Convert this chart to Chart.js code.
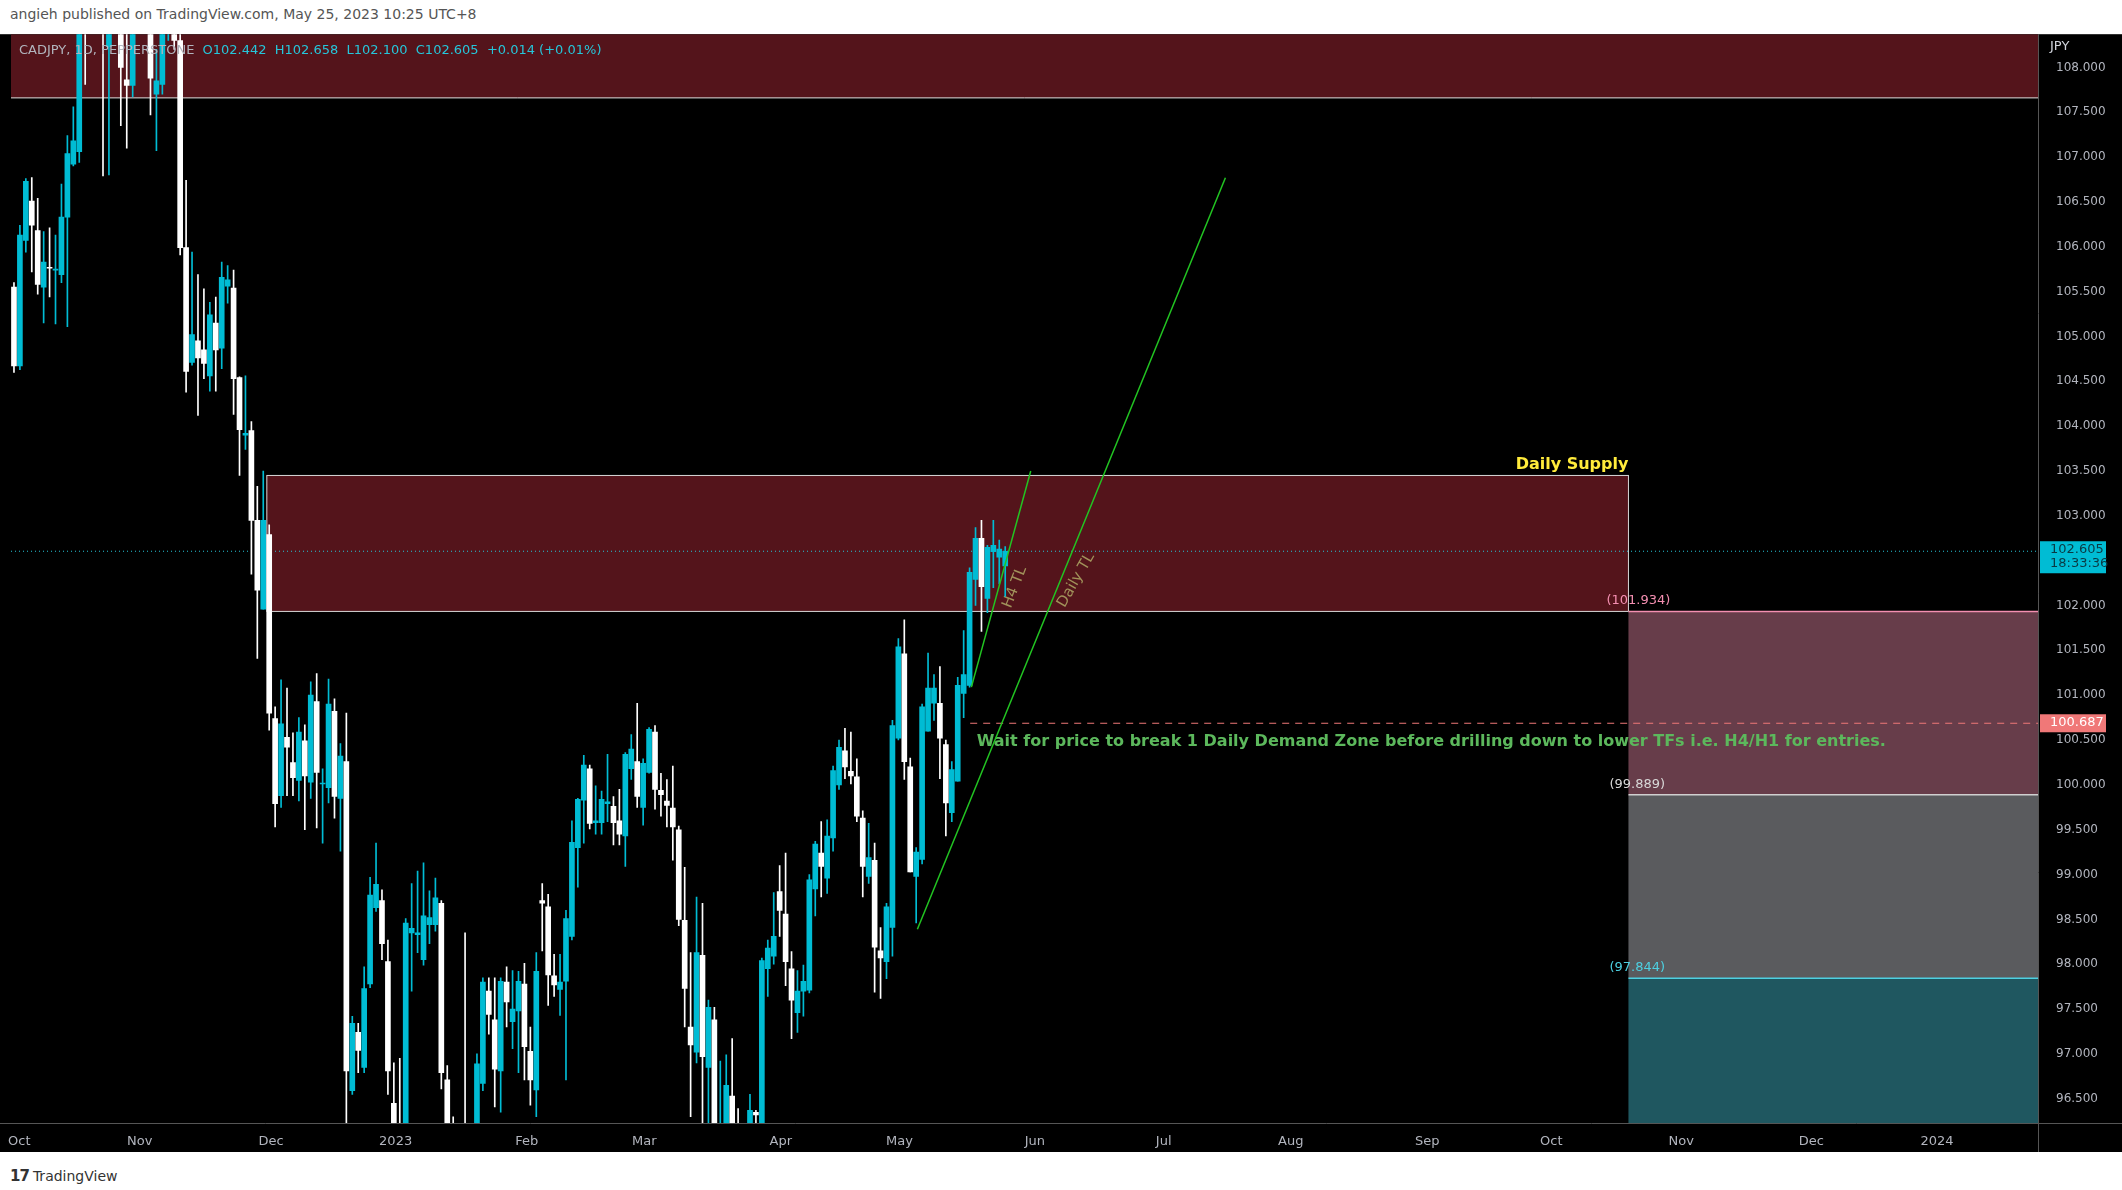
<!DOCTYPE html>
<html>
<head>
<meta charset="utf-8">
<script src="https://cdn.jsdelivr.net/npm/chart.js@4"></script>
<style>
  body { margin: 0; background: #fff; width: 2122px; height: 1190px; overflow: hidden; font-family: "DejaVu Sans", sans-serif; }
  #hdr { position: absolute; left: 10px; top: 6px; font-size: 14px; color: #555; }
  #wrap { position: absolute; left: 0; top: 17px; width: 2122px; height: 1135px; }
  #foot { position: absolute; left: 10px; top: 1167px; font-size: 14px; color: #333; }
  #foot b { font-size: 15px; letter-spacing: -1px; margin-right: 4px; }
</style>
</head>
<body>
<div id="hdr">angieh published on TradingView.com, May 25, 2023 10:25 UTC+8</div>
<div id="wrap"><canvas id="c"></canvas></div>
<div id="foot"><b>17</b>TradingView</div>
<script>
// daily candles, CADJPY, 3 Oct 2022 .. 25 May 2023 (index = trading day)
const opens = [105.55,104.67,106.07,106.51,106.18,105.55,105.77,105.74,105.69,106.33,106.92,107.06,
  109.0,108.6,109.2,109.5,108.23,109.3,109.0,107.86,107.80,108.8,109.2,108.9,107.70,107.81,108.7,108.9,
  108.3,105.99,104.71,104.95,104.85,104.56,105.15,104.87,105.56,105.54,104.54,103.90,103.95,102.95,101.96,
  102.79,100.74,99.88,100.53,100.25,100.05,100.49,100.03,100.93,100.01,99.97,100.82,99.85,100.26,96.59,
  97.24,96.85,97.78,98.63,98.71,98.03,96.45,96.2,95.4,98.35,98.33,98.05,98.44,98.44,98.68,96.71,
  96.0,95.7,96.0,95.6,95.8,96.67,97.70,97.38,96.81,97.80,97.36,97.48,97.78,97.03,96.60,98.71,98.64,
  97.87,97.72,97.81,98.31,99.30,99.83,100.18,99.58,99.58,99.79,99.76,99.60,99.43,100.18,100.26,99.75,
  100.14,100.59,99.94,99.82,99.74,99.50,98.49,97.30,97.02,98.10,96.85,97.38,95.6,95.9,96.53,96.2,95.7,
  96.0,96.35,96.1,97.95,98.09,98.81,98.56,97.95,97.46,97.70,97.71,98.84,99.24,98.96,99.41,100.0,100.38,
  100.15,100.09,99.63,98.98,99.16,98.15,98.03,98.41,100.52,101.46,100.20,98.98,99.17,100.60,100.91,100.91,
  100.45,99.69,100.04,101.02,101.11,102.29,102.75,102.08,102.60,102.54,102.442];
const highs = [105.6,106.24,106.76,106.77,106.54,106.17,106.21,106.13,106.70,107.24,107.56,109.2,
  109.6,109.4,109.9,109.8,109.8,110.0,109.4,108.5,109.0,109.5,109.6,109.2,108.2,108.9,109.2,109.1,
  108.5,106.74,105.94,105.69,105.53,105.38,105.44,105.83,105.79,105.74,104.55,104.56,104.05,103.33,103.5,
  102.90,100.87,101.17,101.08,100.58,100.75,100.67,101.15,101.24,100.18,101.18,100.96,100.46,100.80,97.42,
  97.34,97.97,98.97,99.35,98.83,98.27,96.90,96.95,98.51,98.90,99.04,99.13,98.82,98.96,98.71,96.87,
  96.3,96.2,98.35,96.2,97.0,97.85,97.85,97.85,97.85,97.97,97.93,97.92,98.01,97.30,98.13,98.90,98.78,
  98.11,98.11,98.60,99.60,99.85,100.33,100.22,99.99,99.93,100.34,99.87,99.95,100.36,100.56,100.91,100.29,
  100.64,100.66,100.13,100.06,100.21,99.54,99.08,98.13,98.75,98.68,97.60,97.52,96.92,96.99,97.17,96.39,96.1,
  96.55,96.37,98.07,98.27,98.80,99.10,99.24,98.14,97.93,97.99,99.00,99.37,99.59,99.61,100.21,100.50,100.63,
  100.59,100.29,99.71,99.57,99.35,98.41,98.68,100.72,101.63,101.84,100.30,99.30,100.90,101.47,101.23,101.32,
  100.50,100.26,101.20,101.72,102.42,102.87,102.95,102.67,102.95,102.73,102.658];
const lows = [104.6,104.63,105.94,105.72,105.47,105.15,105.44,105.14,105.60,105.11,106.90,106.94,
  107.81,108.5,108.8,106.79,106.8,108.6,107.35,107.1,107.67,108.5,108.6,107.47,107.07,107.7,108.3,108.2,
  105.91,104.38,104.68,104.12,104.53,104.39,104.39,104.64,105.37,104.13,103.45,103.74,102.35,101.41,101.96,
  100.61,99.53,99.75,99.88,99.88,99.82,99.50,99.85,99.52,99.35,99.80,99.63,99.26,96.0,96.55,
  96.79,96.79,97.74,98.59,98.05,96.55,95.6,95.5,95.3,97.70,98.13,97.99,98.23,98.37,96.61,95.8,
  95.4,95.3,95.2,95.3,95.6,96.59,97.22,96.41,96.35,97.30,97.06,96.79,96.71,96.43,96.30,98.15,97.54,
  97.64,97.43,96.71,98.27,98.86,99.35,99.51,99.45,99.45,99.59,99.33,99.33,99.09,100.06,99.75,99.55,
  100.13,99.73,99.65,99.53,99.16,98.43,97.30,96.3,96.90,96.0,96.1,95.8,95.2,95.7,95.9,95.4,95.3,
  95.8,95.9,95.9,97.64,98.00,98.31,97.76,97.17,97.24,97.42,97.68,98.54,98.75,98.79,99.26,99.95,100.07,
  100.01,99.59,98.75,98.90,97.69,97.62,97.84,98.09,100.50,100.06,99.03,98.46,99.12,100.60,100.72,100.07,
  99.43,99.59,100.04,100.75,101.09,102.0,101.71,101.92,102.20,102.24,102.100];
const closes = [104.67,106.13,106.73,106.24,105.58,105.83,105.76,105.75,106.33,107.04,107.18,108.9,
  108.6,109.2,109.5,108.8,109.3,109.0,108.0,107.80,108.8,109.2,108.9,107.88,107.85,108.7,108.9,108.3,
  105.99,104.61,105.02,104.76,104.70,105.24,104.85,105.66,105.63,104.53,103.96,103.92,102.95,102.17,102.95,
  100.80,99.79,100.68,100.42,100.08,100.59,100.10,101.0,100.14,100.02,100.90,99.87,100.32,96.81,97.34,
  97.04,97.73,98.77,98.89,98.23,96.81,96.0,95.8,98.46,98.40,98.35,98.54,98.52,98.74,96.79,96.0,
  95.7,95.9,95.6,95.9,96.89,97.80,97.44,96.83,97.81,97.58,97.50,97.81,97.08,96.71,97.92,98.68,97.88,
  97.77,97.80,98.51,99.36,99.84,100.22,99.57,99.60,99.84,99.81,99.58,99.45,100.34,100.40,99.87,100.24,
  100.62,99.95,99.89,99.77,99.53,98.50,97.73,97.10,98.13,96.97,97.52,96.0,96.1,96.65,96.1,95.7,95.9,
  96.37,96.32,98.04,98.18,98.31,98.60,98.03,97.60,97.70,97.81,98.94,99.34,99.09,99.43,100.16,100.42,100.20,
  100.10,99.65,99.09,99.19,98.19,98.07,98.64,100.66,101.54,100.26,99.03,99.25,100.87,101.08,101.08,100.52,
  99.80,100.17,101.11,101.23,102.37,102.75,102.21,102.65,102.67,102.63,102.605];

// time axis: positions (trading-day index) and labels
const monthTicks = [0.9, 21.2, 43.3, 64.3, 86.4, 106.2, 129.2, 149.2, 172, 193.7, 215.1, 238.1, 259, 280.9, 302.8, 324];
const monthLabels = ['Oct','Nov','Dec','2023','Feb','Mar','Apr','May','Jun','Jul','Aug','Sep','Oct','Nov','Dec','2024'];

// levels and drawings
const topZoneLow = 107.66;
const supplyTop = 103.45, supplyBottom = 101.934;
const demandBottom = 99.889, lowerBottom = 97.844;
const lastPrice = 102.605, dashedLevel = 100.687;
const dailyTL = [{x: 152.2, y: 98.39}, {x: 204.1, y: 106.77}];
const h4TL = [{x: 161.3, y: 101.09}, {x: 171.3, y: 103.5}];

const UP = '#00bcd4', DOWN = '#ffffff';
const idx = opens.map((_, i) => i);
const wicks = idx.map(i => ({x: i, y: [lows[i], highs[i]]}));
const bodies = idx.map(i => ({x: i, y: [Math.min(opens[i], closes[i]), Math.max(opens[i], closes[i])]}));
const colors = idx.map(i => closes[i] >= opens[i] ? UP : DOWN);

const overlay = {
  id: 'overlay',
  beforeDraw(chart) {
    const {ctx, chartArea: a} = chart;
    ctx.save();
    ctx.fillStyle = '#000';
    ctx.fillRect(0, a.top, chart.width, chart.height - a.top);
    ctx.restore();
  },
  beforeDatasetsDraw(chart) {
    const {ctx, chartArea: a, scales: {x, y}} = chart;
    ctx.save();
    ctx.beginPath(); ctx.rect(a.left, a.top, a.right - a.left, a.bottom - a.top); ctx.clip();
    const X = v => x.getPixelForValue(v), Y = v => y.getPixelForValue(v);
    // top supply zone
    ctx.fillStyle = '#54141b';
    ctx.fillRect(a.left, a.top, a.right - a.left, Y(topZoneLow) - a.top);
    ctx.strokeStyle = '#e0e0e0'; ctx.lineWidth = 1;
    ctx.beginPath(); ctx.moveTo(a.left, Y(topZoneLow)); ctx.lineTo(a.right, Y(topZoneLow)); ctx.stroke();
    // daily supply box
    const zx0 = X(42.6), zx1 = X(272);
    ctx.fillStyle = '#54141b';
    ctx.fillRect(zx0, Y(supplyTop), zx1 - zx0, Y(supplyBottom) - Y(supplyTop));
    ctx.strokeStyle = '#d8d8d8';
    ctx.strokeRect(zx0, Y(supplyTop), zx1 - zx0, Y(supplyBottom) - Y(supplyTop));
    // zones on the right
    ctx.fillStyle = '#673d4a'; ctx.fillRect(zx1, Y(supplyBottom), a.right - zx1, Y(demandBottom) - Y(supplyBottom));
    ctx.fillStyle = '#5a5b5e'; ctx.fillRect(zx1, Y(demandBottom), a.right - zx1, Y(lowerBottom) - Y(demandBottom));
    ctx.fillStyle = '#1f5760'; ctx.fillRect(zx1, Y(lowerBottom), a.right - zx1, a.bottom - Y(lowerBottom));
    [[supplyBottom, '#f48fb1'], [demandBottom, '#d0d0d0'], [lowerBottom, '#4dd0e1']].forEach(([v, c]) => {
      ctx.strokeStyle = c; ctx.lineWidth = 1.5;
      ctx.beginPath(); ctx.moveTo(zx1, Y(v)); ctx.lineTo(a.right, Y(v)); ctx.stroke();
    });
    ctx.font = '13px "DejaVu Sans"'; ctx.textBaseline = 'bottom'; ctx.textAlign = 'left';
    ctx.fillStyle = '#f48fb1'; ctx.fillText('(101.934)', zx1 - 22, Y(supplyBottom) - 4);
    ctx.fillStyle = '#d8d8d8'; ctx.fillText('(99.889)', zx1 - 19, Y(demandBottom) - 4);
    ctx.fillStyle = '#4dd0e1'; ctx.fillText('(97.844)', zx1 - 19, Y(lowerBottom) - 4);
    // last price dotted line
    ctx.strokeStyle = '#26c6da'; ctx.lineWidth = 1; ctx.setLineDash([1, 3]);
    ctx.beginPath(); ctx.moveTo(a.left, Y(lastPrice)); ctx.lineTo(a.right, Y(lastPrice)); ctx.stroke();
    // dashed level
    ctx.strokeStyle = '#f07878'; ctx.setLineDash([7, 6]);
    ctx.beginPath(); ctx.moveTo(X(161.1), Y(dashedLevel)); ctx.lineTo(a.right, Y(dashedLevel)); ctx.stroke();
    ctx.setLineDash([]);
    // texts
    ctx.font = 'bold 16px "DejaVu Sans"'; ctx.fillStyle = '#ffeb3b'; ctx.textAlign = 'right';
    ctx.fillText('Daily Supply', zx1, Y(supplyTop) - 3);
    ctx.textAlign = 'left'; ctx.fillStyle = '#5cb85c'; ctx.font = 'bold 16px "DejaVu Sans"';
    ctx.fillText('Wait for price to break 1 Daily Demand Zone before drilling down to lower TFs i.e. H4/H1 for entries.', X(162.2), Y(dashedLevel) + 27);
    ctx.fillStyle = '#a1925a'; ctx.font = '15px "DejaVu Sans"';
    ctx.save(); ctx.translate(X(168.5), Y(101.95)); ctx.rotate(-1.2); ctx.fillText('H4 TL', 0, 0); ctx.restore();
    ctx.save(); ctx.translate(X(177.5), Y(101.95)); ctx.rotate(-1.05); ctx.fillText('Daily TL', 0, 0); ctx.restore();
    ctx.restore();
  },
  afterDraw(chart) {
    const {ctx, chartArea: a, scales: {y}} = chart;
    ctx.save();
    ctx.strokeStyle = '#555'; ctx.lineWidth = 1;
    ctx.beginPath(); ctx.moveTo(a.right + 0.5, a.top); ctx.lineTo(a.right + 0.5, chart.height); ctx.stroke();
    ctx.beginPath(); ctx.moveTo(0, a.bottom + 0.5); ctx.lineTo(chart.width, a.bottom + 0.5); ctx.stroke();
    ctx.font = '13px "DejaVu Sans"'; ctx.textBaseline = 'top'; ctx.textAlign = 'left';
    const lbl = 'CADJPY, 1D, PEPPERSTONE';
    ctx.fillStyle = '#b2b5be'; ctx.fillText(lbl, a.left + 8, a.top + 10);
    ctx.fillStyle = '#26c6da';
    ctx.fillText('O102.442  H102.658  L102.100  C102.605  +0.014 (+0.01%)', a.left + 16 + ctx.measureText(lbl).width, a.top + 10);
    ctx.fillStyle = '#d1d4dc'; ctx.fillText('JPY', a.right + 12, a.top + 6);
    // price tags
    let py = y.getPixelForValue(lastPrice);
    ctx.fillStyle = '#00bcd4'; ctx.fillRect(a.right + 2, py - 10, 66, 32);
    ctx.fillStyle = '#0a3a44'; ctx.fillText('102.605', a.right + 12, py - 8); ctx.fillText('18:33:36', a.right + 12, py + 6);
    py = y.getPixelForValue(dashedLevel);
    ctx.fillStyle = '#f07878'; ctx.fillRect(a.right + 2, py - 9, 66, 18);
    ctx.fillStyle = '#ffffff'; ctx.fillText('100.687', a.right + 12, py - 7);
    ctx.restore();
  }
};

new Chart(document.getElementById('c'), {
  data: {
    datasets: [
      {type: 'line', data: dailyTL, borderColor: '#22c522', borderWidth: 1.5, pointRadius: 0, order: 0},
      {type: 'line', data: h4TL, borderColor: '#22c522', borderWidth: 1.5, pointRadius: 0, order: 0},
      {type: 'bar', data: bodies, backgroundColor: colors, barThickness: 5, minBarLength: 1, order: 1},
      {type: 'bar', data: wicks, backgroundColor: colors, barThickness: 1, order: 2}
    ]
  },
  options: {
    responsive: true, maintainAspectRatio: false, animation: false,
    layout: {padding: {left: 11, top: 0, right: 0, bottom: 0}},
    plugins: {legend: {display: false}, tooltip: {enabled: false}},
    datasets: {bar: {grouped: false}},
    scales: {
      x: {
        type: 'linear', min: -0.5, max: 341, offset: false,
        grid: {display: false}, border: {display: false},
        afterBuildTicks: s => { s.ticks = monthTicks.map(v => ({value: v})); },
        afterFit: s => { s.height = 29; },
        ticks: {color: '#b2b5be', font: {size: 13, family: 'DejaVu Sans'}, maxRotation: 0, autoSkip: false,
          callback: (v, i) => monthLabels[i]}
      },
      y: {
        position: 'right', min: 96.23, max: 108.37,
        grid: {display: false}, border: {display: false},
        afterFit: s => { s.width = 84; },
        ticks: {stepSize: 0.5, color: '#b2b5be', font: {size: 12, family: 'DejaVu Sans'}, padding: 10,
          callback: v => (v >= 96.5 && v <= 108) ? v.toFixed(3) : ''}
      }
    }
  },
  plugins: [overlay]
});
</script>
</body>
</html>
